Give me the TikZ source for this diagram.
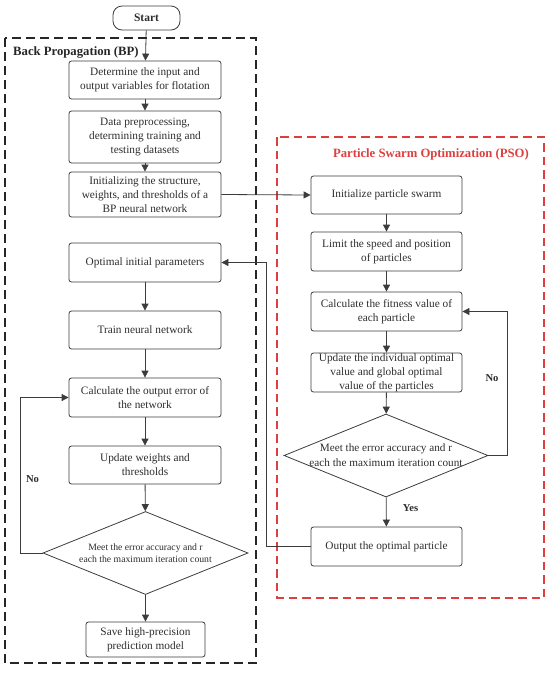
\documentclass[tikz,border=0pt]{standalone}
\usepackage{fontspec}
\setmainfont{Liberation Serif}
\usetikzlibrary{shapes.geometric,arrows.meta}
\definecolor{lc}{RGB}{60,60,60}
\definecolor{tc}{RGB}{45,45,45}
\definecolor{psored}{RGB}{222,62,62}
\begin{document}
\begin{tikzpicture}[x=1pt,y=-1pt,
  box/.style={draw=lc, line width=0.8pt, rounded corners=2.5pt, align=center,
    inner xsep=2pt, inner ysep=0pt, text=tc, font=\fontsize{11.3}{14}\selectfont},
  bpbox/.style={box, minimum width=152pt},
  psobox/.style={box, minimum width=151pt},
  dia/.style={diamond, draw=lc, line width=0.8pt, inner sep=0pt},
  diatext/.style={align=center, text=tc, inner sep=0pt},
  arr/.style={draw=lc, line width=0.8pt, -{Triangle[length=7pt,width=7pt]}},
  lab/.style={font=\bfseries\fontsize{10.6}{12}\selectfont, text=tc, inner sep=0pt}
]
\useasboundingbox (0,0) rectangle (550,673);

% group frames
\draw[line width=2.2pt, black!85, dash pattern=on 9pt off 5pt] (5,38) rectangle (256,663);
\node[font=\bfseries\fontsize{12.7}{14}\selectfont, text=black!85, anchor=west, inner sep=0pt] (bplab) at (13,52) {Back Propagation (BP)};
\draw[line width=1.8pt, psored, dash pattern=on 8.5pt off 5pt] (277,137) rectangle (544,598);
\node[font=\bfseries\fontsize{12.7}{14}\selectfont, text=psored, anchor=east, inner sep=0pt] (psolab) at (529,154) {Particle Swarm Optimization (PSO)};

% start
\node[draw=lc, line width=0.8pt, rounded corners=9pt, minimum width=67pt, minimum height=24pt, inner sep=0pt,
  font=\bfseries\fontsize{11.5}{13}\selectfont, text=tc] (start) at (146.5,18) {Start};

% BP column
\node[bpbox, minimum height=38pt] (b1) at (145,80) {Determine the input and\\output variables for flotation};
\node[bpbox, minimum height=52pt] (b2) at (145,137) {Data preprocessing,\\determining training and\\testing datasets};
\node[bpbox, minimum height=45pt] (b3) at (145,194.5) {Initializing the structure,\\weights, and thresholds of a\\BP neural network};
\node[bpbox, minimum height=39pt] (b4) at (145,262.5) {Optimal initial parameters};
\node[bpbox, minimum height=38pt] (b5) at (145,330) {Train neural network};
\node[bpbox, minimum height=39pt] (b6) at (145,397.5) {Calculate the output error of\\the network};
\node[bpbox, minimum height=38pt] (b7) at (145,465) {Update weights and\\thresholds};
\node[dia, minimum width=205pt, minimum height=83pt] (bd) at (145.5,553) {};
\node[diatext, font=\fontsize{9.7}{12}\selectfont] (bdt) at (bd.center) {Meet the error accuracy and r\\each the maximum iteration count};
\node[box, minimum width=119pt, minimum height=35pt] (save) at (145.5,639.5) {Save high-precision\\prediction model};

% PSO column
\node[psobox, minimum height=38pt] (p1) at (386.5,195) {Initialize particle swarm};
\node[psobox, minimum height=39pt] (p2) at (386.5,251.5) {Limit the speed and position\\of particles};
\node[psobox, minimum height=39pt] (p3) at (386.5,311.5) {Calculate the fitness value of\\each particle};
\node[psobox, minimum height=39pt] (p4) at (386.5,372.5) {Update the individual optimal\\value and global optimal\\value of the particles};
\node[dia, minimum width=204pt, minimum height=83pt] (pd) at (386,455.5) {};
\node[diatext, font=\fontsize{11.2}{15}\selectfont] (pdt) at (pd.center) {Meet the error accuracy and r\\each the maximum iteration count};
\node[psobox, minimum height=39pt] (p5) at (386.5,546.5) {Output the optimal particle};

% BP arrows
\draw[arr] (start) -- (b1);
\draw[arr] (b1) -- (b2);
\draw[arr] (b2) -- (b3);
\draw[arr] (b4) -- (b5);
\draw[arr] (b5) -- (b6);
\draw[arr] (b6) -- (b7);
\draw[arr] (b7) -- (bd);
\draw[arr] (bd) -- (save);
\draw[arr] (bd.west) -- ++(-22,0) |- (b6.west);
\node[lab] (bno) at (32.5,479) {No};

% link BP -> PSO
\draw[arr] (b3.east) -- (p1.west);

% PSO arrows
\draw[arr] (p1) -- (p2);
\draw[arr] (p2) -- (p3);
\draw[arr] (p3) -- (p4);
\draw[arr] (p4) -- (pd);
\draw[arr] (pd) -- (p5);
\draw[arr] (pd.east) -- ++(19,0) |- (p3.east);
\node[lab] (pno) at (492,378) {No};
\node[lab] (pyes) at (410.5,508) {Yes};

% PSO -> BP
\draw[arr] (p5.west) -- ++(-44,0) |- (b4.east);
\end{tikzpicture}
\end{document}
